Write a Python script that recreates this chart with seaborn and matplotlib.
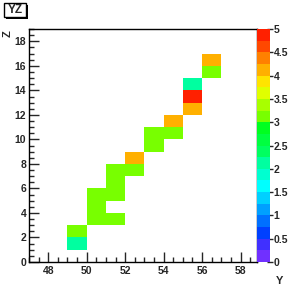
import numpy as np
import pandas as pd
import matplotlib
matplotlib.use("Agg")
import matplotlib.pyplot as plt
from matplotlib.colors import ListedColormap
from matplotlib.patches import Rectangle
from matplotlib.ticker import MultipleLocator
import seaborn as sns

# cell data: Y bin (left edge), Z bin (lower edge), content
y_bins = [49, 49, 50, 50, 50, 51, 51, 51, 51, 52, 52, 53, 53, 54, 54, 55, 55, 55, 56, 56]
z_bins = [1, 2, 3, 4, 5, 3, 5, 6, 7, 7, 8, 9, 10, 10, 11, 12, 13, 14, 15, 16]
counts = [2, 3, 3, 3, 3, 3, 3, 3, 3, 3, 4, 3, 3, 3, 4, 4, 5, 2, 3, 4]

y_edges = np.arange(47, 60)
z_edges = np.arange(0, 20)
x_ticks = [48, 50, 52, 54, 56, 58]
z_ticks = [0, 2, 4, 6, 8, 10, 12, 14, 16, 18]
cbar_ticks = [0, 0.5, 1, 1.5, 2, 2.5, 3, 3.5, 4, 4.5, 5]
cbar_labels = ["0", "0.5", "1", "1.5", "2", "2.5", "3", "3.5", "4", "4.5", "5"]

df = pd.DataFrame({"Y": np.array(y_bins) + 0.5, "Z": np.array(z_bins) + 0.5, "n": counts})

# ROOT-like palette, 20 contour levels (0 -> 5)
levels = ["#7030FF", "#4030FF", "#0040FF", "#0070FF", "#00A0FF", "#00D0FF", "#00FFFF", "#00FFD0",
          "#00FFA0", "#00FF60", "#00FF40", "#00FF20", "#78FF00", "#A8FF00", "#E0FF00", "#FFE400",
          "#FFB000", "#FF8000", "#FF4800", "#FF2000"]
cmap = ListedColormap(levels)

sns.set_style("ticks")
plt.rcParams["font.family"] = ["Liberation Sans", "DejaVu Sans"]
plt.rcParams["font.weight"] = "bold"

fig = plt.figure(figsize=(2.89, 2.91), dpi=100)
ax = fig.add_axes([0.1003, 0.0997, 0.7886, 0.8003])
cax = fig.add_axes([0.8893, 0.0997, 0.045, 0.8003])

sns.histplot(data=df, x="Y", y="Z", weights="n", bins=[y_edges, z_edges],
             cmap=cmap, vmin=0, vmax=5, cbar=True, cbar_ax=cax, ax=ax)

ax.set_xlim(47, 58.85)
ax.set_ylim(0, 19)
ax.set_xticks(x_ticks)
ax.set_yticks(z_ticks)
ax.xaxis.set_minor_locator(MultipleLocator(0.5))
ax.yaxis.set_minor_locator(MultipleLocator(0.5))
ax.tick_params(which="major", direction="in", length=7, width=1, labelsize=7.5, pad=3)
ax.tick_params(which="minor", direction="in", length=3.5, width=1)
ax.tick_params(axis="y", pad=2)
for lab in ax.get_xticklabels() + ax.get_yticklabels():
    lab.set_fontweight("bold")
ax.set_xlabel("")
ax.set_ylabel("")
for s in ax.spines.values():
    s.set_linewidth(1)
    s.set_color("black")

fig.text(0.98, 0.035, "Y", ha="right", va="center", fontsize=8, fontweight="bold")
fig.text(0.025, 0.885, "Z", ha="center", va="center", fontsize=8, fontweight="bold", rotation=90)

cax.set_yticks(cbar_ticks)
cax.set_yticklabels(cbar_labels)
cax.tick_params(axis="y", direction="inout", length=5, width=1, labelsize=7.5, pad=0)
for lab in cax.get_yticklabels():
    lab.set_fontweight("bold")
for s in cax.spines.values():
    s.set_visible(False)

# title box with ROOT-style shadow
W, H = 289.0, 291.0
fig.add_artist(Rectangle((6 / W, 1 - 19 / H), 22 / W, 14 / H, transform=fig.transFigure,
                         fc="black", ec="none"))
fig.add_artist(Rectangle((4 / W, 1 - 17 / H), 22 / W, 14 / H, transform=fig.transFigure,
                         fc="white", ec="black", lw=1))
fig.text(15 / W, 1 - 10 / H, "YZ", ha="center", va="center", fontsize=8.5, fontweight="bold")

fig.savefig("out.png", dpi=100)
